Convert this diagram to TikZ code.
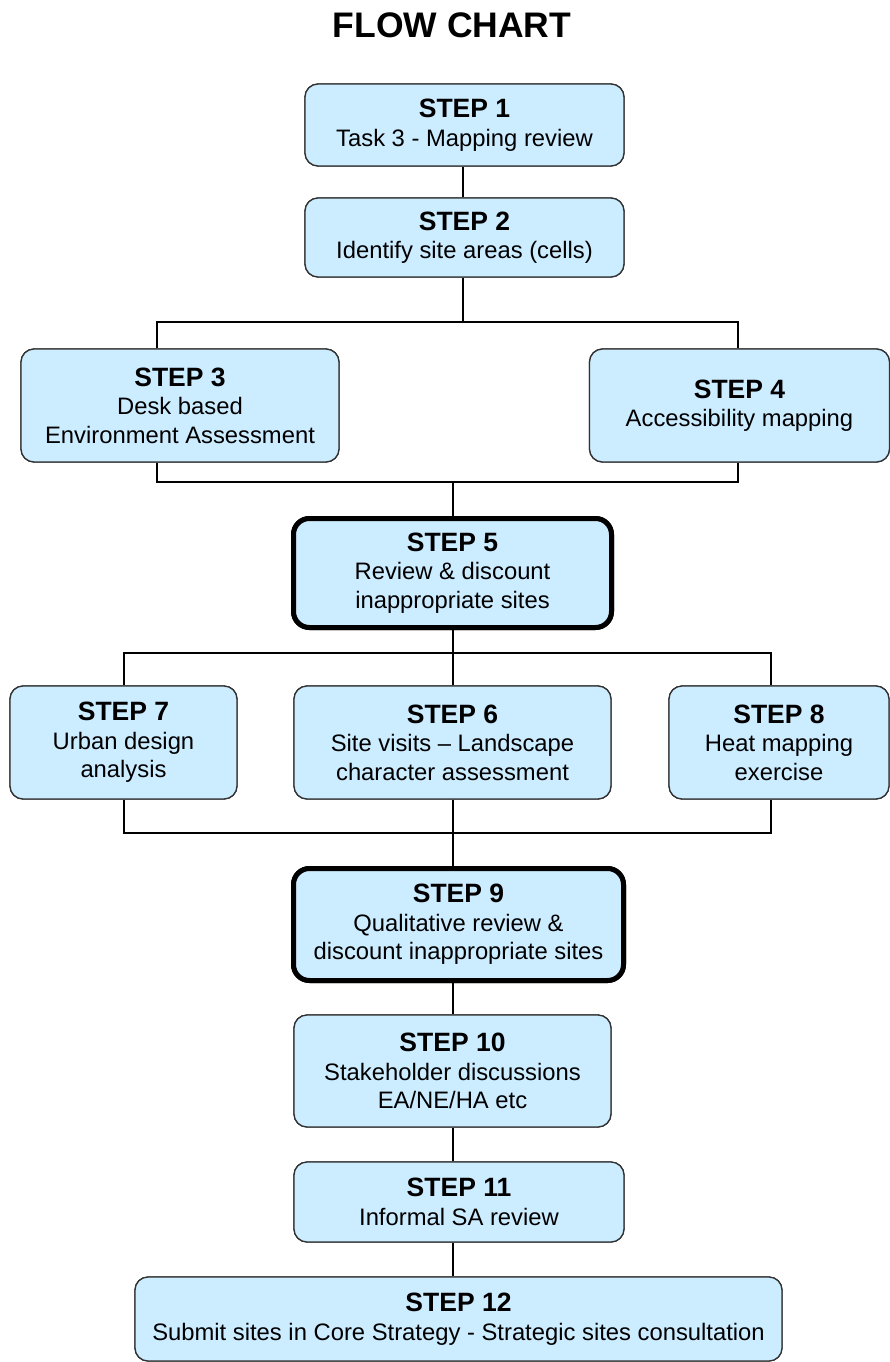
\documentclass[tikz,border=0pt]{standalone}
\usepackage{fontspec}
\setmainfont{Liberation Sans}
\definecolor{boxfill}{RGB}{204,236,255}
\definecolor{boxline}{RGB}{50,50,50}
\newcommand{\hdtext}[1]{{\fontsize{26.5}{29}\selectfont\bfseries #1}}
\begin{document}
\begin{tikzpicture}[x=1pt,y=-1pt,
  stepbox/.style={draw=boxline,line width=1.3pt,fill=boxfill,rounded corners=13pt,
    inner sep=0pt,align=center,font=\fontsize{23.8}{28.5}\selectfont},
  keybox/.style={stepbox,draw=black,line width=5pt,rounded corners=16pt},
  conn/.style={draw=black,line width=2pt}]
\useasboundingbox (0,0) rectangle (890,1362);
\node[font=\fontsize{35.5}{38}\selectfont\bfseries] (title) at (452,25) {FLOW CHART};
% box outlines first (underneath connectors are hidden by re-drawn boxes)
\node[stepbox,minimum width=319pt,minimum height=82pt] (s1) at (464.5,125) {};
\node[stepbox,minimum width=319pt,minimum height=79pt] (s2) at (464.5,237.5) {};
\node[stepbox,minimum width=318pt,minimum height=113pt] (s3) at (180,405.5) {};
\node[stepbox,minimum width=300pt,minimum height=113pt] (s4) at (739.5,405.5) {};
\node[keybox,minimum width=318pt,minimum height=109pt] (s5) at (452.5,573) {};
\node[stepbox,minimum width=227pt,minimum height=113pt] (s7) at (123.5,742.5) {};
\node[stepbox,minimum width=317pt,minimum height=113pt] (s6) at (452.5,742.5) {};
\node[stepbox,minimum width=220pt,minimum height=113pt] (s8) at (779,742.5) {};
\node[keybox,minimum width=330pt,minimum height=112pt] (s9) at (458.5,924.5) {};
\node[stepbox,minimum width=317pt,minimum height=112pt] (s10) at (452.5,1071) {};
\node[stepbox,minimum width=330pt,minimum height=80pt] (s11) at (459,1202) {};
\node[stepbox,minimum width=647pt,minimum height=84pt] (s12) at (458.5,1319) {};
% connectors
\coordinate (b1) at (463,322);
\coordinate (b2) at (452.5,482);
\coordinate (b3) at (452.5,653);
\coordinate (b4) at (452.5,833);
\draw[conn] ([xshift=-1.5pt]s1.south) -- ([xshift=-1.5pt]s2.north);
\draw[conn] ([xshift=-1.5pt]s2.south) -- (b1);
\draw[conn] ([xshift=-23pt]s3.north) |- (b1) -| ([xshift=-1.5pt]s4.north);
\draw[conn] ([xshift=-23pt]s3.south) |- (b2) -| ([xshift=-1.5pt]s4.south);
\draw[conn] (b2) -- (s5.north);
\draw[conn] (s5.south) -- (b3);
\draw[conn] (s7.north) |- (b3) -| ([xshift=-8pt]s8.north);
\draw[conn] (b3) -- (s6.north);
\draw[conn] (s7.south) |- (b4) -| ([xshift=-8pt]s8.south);
\draw[conn] (s6.south) -- (s6.south |- s9.north);
\draw[conn] (s9.south -| s10.south) -- (s10.north);
\draw[conn] (s10.south) -- (s10.south |- s11.north);
\draw[conn] (s11.south -| s10.south) -- (s10.south |- s12.north);
% box texts
\node[stepbox,minimum width=319pt,minimum height=82pt] at (s1) {\hdtext{STEP 1}\\Task 3 - Mapping review};
\node[stepbox,minimum width=319pt,minimum height=79pt] at (s2) {\hdtext{STEP 2}\\Identify site areas (cells)};
\node[stepbox,minimum width=318pt,minimum height=113pt] at (s3) {\hdtext{STEP 3}\\Desk based\\Environment Assessment};
\node[stepbox,minimum width=300pt,minimum height=113pt] at (s4) {\hdtext{STEP 4}\\Accessibility mapping};
\node[keybox,minimum width=318pt,minimum height=109pt] at (s5) {\hdtext{STEP 5}\\Review \& discount\\inappropriate sites};
\node[stepbox,minimum width=227pt,minimum height=113pt] at (s7) {\hdtext{STEP 7}\\Urban design\\analysis};
\node[stepbox,minimum width=317pt,minimum height=113pt] at (s6) {\hdtext{STEP 6}\\Site visits -- Landscape\\character assessment};
\node[stepbox,minimum width=220pt,minimum height=113pt] at (s8) {\hdtext{STEP 8}\\Heat mapping\\exercise};
\node[keybox,minimum width=330pt,minimum height=112pt] at (s9) {\hdtext{STEP 9}\\Qualitative review \&\\discount inappropriate sites};
\node[stepbox,minimum width=317pt,minimum height=112pt] at (s10) {\hdtext{STEP 10}\\Stakeholder discussions\\EA/NE/HA etc};
\node[stepbox,minimum width=330pt,minimum height=80pt] at (s11) {\hdtext{STEP 11}\\Informal SA review};
\node[stepbox,minimum width=647pt,minimum height=84pt] at (s12) {\hdtext{STEP 12}\\Submit sites in Core Strategy - Strategic sites consultation};
\end{tikzpicture}
\end{document}
